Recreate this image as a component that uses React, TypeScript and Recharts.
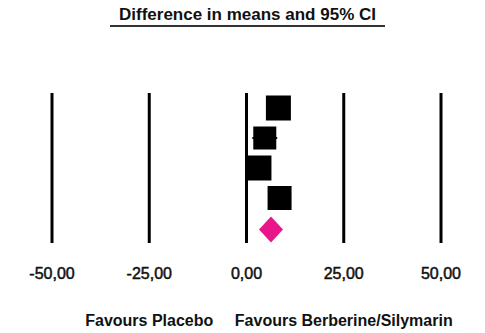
import React from 'react';
import { ComposedChart, Scatter, XAxis, YAxis, CartesianGrid, ErrorBar } from 'recharts';

// ---- data ----
const studyRows = [0.5, 1.5, 2.5, 3.5];
const studyMeans = [8.2, 4.7, 3.2, 8.5];
const studyLower = [7.0, 1.5, 1.5, 7.2];
const studyUpper = [9.4, 7.9, 4.9, 9.8];
const pooledRow = [4.55];
const pooledMean = [6.3];
const xTicks = [-50, -25, 0, 25, 50];
const xTickLabels = ['-50,00', '-25,00', '0,00', '25,00', '50,00'];
const titleText = 'Difference in means and 95% CI';
const favourLabels = ['Favours Placebo', 'Favours Berberine/Silymarin'];
const favourCenters = [-25, 25];

// ---- styling ----
const W = 485;
const H = 333;
const margin = { top: 93, right: 44, bottom: 60, left: 52 };
const markerSizes = [25, 23, 25, 24];
const FONT = '"Liberation Sans", Arial, sans-serif';
const PINK = '#e8168a';

const studyData = studyRows.map((row, i) => ({
  x: studyMeans[i],
  y: row,
  err: [studyMeans[i] - studyLower[i], studyUpper[i] - studyMeans[i]],
  idx: i,
}));
const pooledData = pooledRow.map((row, i) => ({ x: pooledMean[i], y: row }));

const plotW = W - margin.left - margin.right;
const xToPx = (v: number) => margin.left + ((v + 50) / 100) * plotW;

const Square = (props: any) => {
  const { cx, cy, payload } = props;
  const s = markerSizes[payload?.idx ?? 0];
  return <rect x={cx - s / 2} y={cy - s / 2} width={s} height={s} fill="#000" />;
};

const Diamond = (props: any) => {
  const { cx, cy } = props;
  const hw = 12;
  const hh = 13;
  return (
    <polygon
      points={`${cx},${cy - hh} ${cx + hw},${cy} ${cx},${cy + hh} ${cx - hw},${cy}`}
      fill={PINK}
    />
  );
};

const Tick = (props: any) => {
  const { x, y, payload } = props;
  const i = xTicks.indexOf(payload.value);
  return (
    <text
      x={x}
      y={y + 28}
      textAnchor="middle"
      fontFamily={FONT}
      fontSize={16}
      fill="#111"
      stroke="#111"
      strokeWidth={0.5}
    >
      {xTickLabels[i]}
    </text>
  );
};

export default function App() {
  return (
    <div style={{ position: 'absolute', left: 0, top: 0, width: W, height: H, background: '#fff' }}>
      <div
        style={{
          position: 'absolute',
          left: 110,
          width: 275,
          top: 5,
          textAlign: 'center',
          fontFamily: FONT,
          fontWeight: 'bold',
          fontSize: 17,
          lineHeight: '20px',
          color: '#111',
          borderBottom: '2px solid #333',
        }}
      >
        {titleText}
      </div>
      <ComposedChart width={W} height={H} margin={margin}>
        <CartesianGrid horizontal={false} stroke="#000" strokeWidth={3} />
        <XAxis
          type="number"
          dataKey="x"
          domain={[-50, 50]}
          ticks={xTicks}
          axisLine={false}
          tickLine={false}
          tick={<Tick />}
          height={30}
          interval={0}
        />
        <YAxis type="number" dataKey="y" domain={[0, 5]} reversed hide />
        <Scatter data={studyData} dataKey="x" fill="#000" shape={<Square />} isAnimationActive={false}>
          <ErrorBar dataKey="err" direction="x" stroke="#000" strokeWidth={2} width={0} />
        </Scatter>
        <Scatter data={pooledData} dataKey="x" fill={PINK} shape={<Diamond />} isAnimationActive={false} />
      </ComposedChart>
      {favourLabels.map((t, i) => (
        <div
          key={t}
          style={{
            position: 'absolute',
            left: xToPx(favourCenters[i]) - 150,
            width: 300,
            top: 312,
            textAlign: 'center',
            fontFamily: FONT,
            fontWeight: 'bold',
            fontSize: 16,
            lineHeight: '18px',
            color: '#111',
          }}
        >
          {t}
        </div>
      ))}
    </div>
  );
}
